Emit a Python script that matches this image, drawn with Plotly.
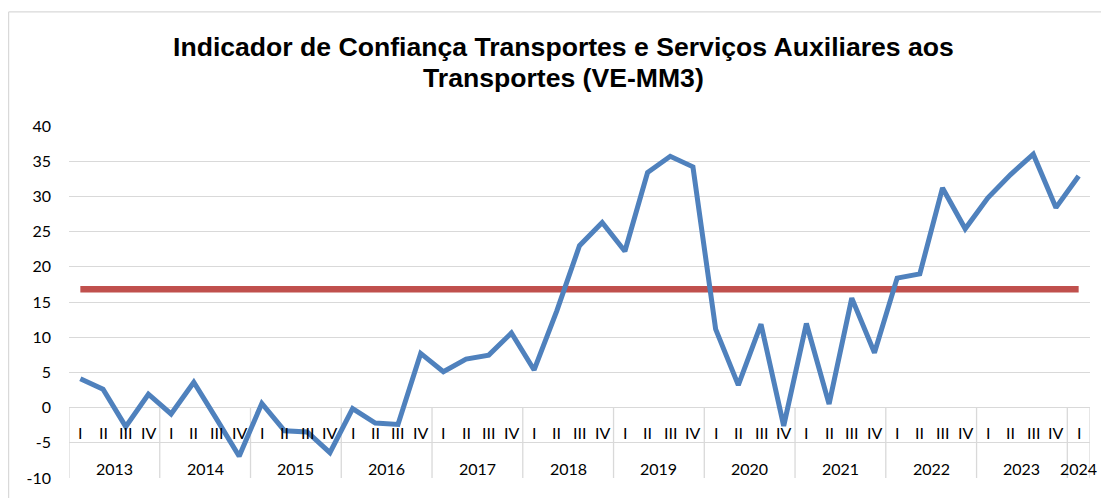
import plotly.graph_objects as go

# ---- data ----
years = ["2013", "2014", "2015", "2016", "2017", "2018", "2019", "2020",
         "2021", "2022", "2023", "2024"]
quarters_per_year = [4, 4, 4, 4, 4, 4, 4, 4, 4, 4, 4, 1]
quarter_names = ["I", "II", "III", "IV"]

indicador = [4.1, 2.6, -2.7, 1.9,
             -0.9, 3.6, -1.6, -6.9,
             0.6, -3.3, -3.45, -6.4,
             -0.15, -2.2, -2.4, 7.7,
             5.1, 6.9, 7.45, 10.6,
             5.35, 13.75, 23.0, 26.3,
             22.2, 33.4, 35.7, 34.2,
             11.15, 3.2, 11.85, -2.6,
             11.95, 0.5, 15.55, 7.8,
             18.4, 19.0, 31.2, 25.4,
             29.8, 33.1, 36.0, 28.4,
             32.9]
media_longo_prazo = 16.8

y_ticks = [-10, -5, 0, 5, 10, 15, 20, 25, 30, 35, 40]

# ---- derived category labels ----
quarter_labels = []
for n in quarters_per_year:
    quarter_labels += quarter_names[:n]
n_cat = len(quarter_labels)
xs = [i + 0.5 for i in range(n_cat)]

BLUE = "#4F81BD"
RED = "#C0504D"
GRID = "#D9D9D9"
LABEL_FONT = dict(family="Lato, 'Open Sans', sans-serif", size=16, color="#000000")

fig = go.Figure()
fig.add_trace(go.Scatter(x=[xs[0], xs[-1]], y=[media_longo_prazo, media_longo_prazo],
                         mode="lines", line=dict(color=RED, width=6.5),
                         hoverinfo="skip", showlegend=False))
fig.add_trace(go.Scatter(x=xs, y=indicador, mode="lines",
                         line=dict(color=BLUE, width=5),
                         showlegend=False))

shapes = []
annotations = []
# quarter labels
for x, q in zip(xs, quarter_labels):
    annotations.append(dict(x=x, y=-3.56, xref="x", yref="y", text=q,
                            showarrow=False, font=LABEL_FONT,
                            xanchor="center", yanchor="middle"))
# year labels and dividers
start = 0
bounds = [0]
for yname, n in zip(years, quarters_per_year):
    annotations.append(dict(x=start + n / 2, y=-8.6, xref="x", yref="y", text=yname,
                            showarrow=False, font=LABEL_FONT,
                            xanchor="center", yanchor="middle"))
    start += n
    bounds.append(start)
for b in bounds:
    shapes.append(dict(type="line", xref="x", yref="y", x0=b, x1=b, y0=0, y1=-10.25,
                       line=dict(color=GRID, width=1.3), layer="below"))

# chart border (top and left)
shapes.append(dict(type="line", xref="paper", yref="paper",
                   x0=-0.0592, x1=1.03, y0=1.324, y1=1.324,
                   line=dict(color=GRID, width=1.3)))
shapes.append(dict(type="line", xref="paper", yref="paper",
                   x0=-0.0592, x1=-0.0592, y0=1.324, y1=-0.07,
                   line=dict(color=GRID, width=1.3)))

# title (two lines)
TITLE_FONT = dict(family="'Liberation Sans', Arial, sans-serif", size=26.6, color="#000000")
annotations.append(dict(x=0.4839, y=1, xref="paper", yref="paper", yshift=79.2,
                        text="<b>Indicador de Confiança Transportes e Serviços Auxiliares aos</b>",
                        showarrow=False, font=TITLE_FONT, xanchor="center", yanchor="middle"))
annotations.append(dict(x=0.4839, y=1, xref="paper", yref="paper", yshift=48,
                        text="<b>Transportes (VE-MM3)</b>",
                        showarrow=False, font=TITLE_FONT, xanchor="center", yanchor="middle"))

# the page body adds an 8px offset; the figure is sized to fit the window
fig.update_layout(
    width=1101, height=490,
    margin=dict(l=60.5, r=18.5, t=118, b=20.3, autoexpand=False),
    paper_bgcolor="white", plot_bgcolor="white",
    shapes=shapes, annotations=annotations,
    xaxis=dict(range=[0, n_cat], showticklabels=False, showgrid=False,
               zeroline=False, showline=False, fixedrange=True),
    yaxis=dict(range=[-10, 40], tickvals=y_ticks, ticktext=[str(v) for v in y_ticks],
               showgrid=True, gridcolor=GRID, gridwidth=1.3,
               zeroline=True, zerolinecolor=GRID, zerolinewidth=1.3,
               showline=False, ticks="", tickfont=LABEL_FONT,
               ticklabelstandoff=17, fixedrange=True),
)

fig.write_html("out.html")
